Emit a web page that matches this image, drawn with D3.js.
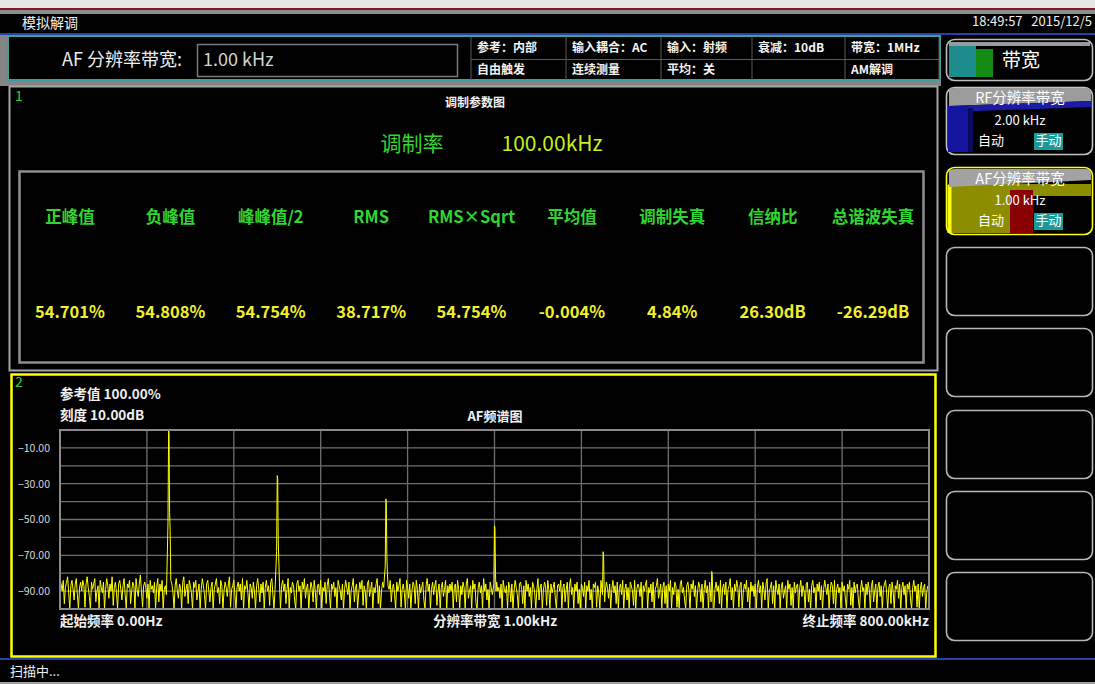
<!DOCTYPE html>
<html>
<head>
<meta charset="utf-8">
<script src="https://cdn.jsdelivr.net/npm/d3@7"></script>
<style>
  html, body { margin: 0; padding: 0; background: #000; }
  svg { display: block; }
  text { font-family: "Noto Sans CJK SC", "Noto Sans", sans-serif; }
</style>
</head>
<body>
<svg id="screen" width="1095" height="684"></svg>
<script>
// ---- instrument state ----
const titleText = "模拟解调";
const clockText = "18:49:57   2015/12/5";
const afRbwLabel = "AF 分辨率带宽:";
const afRbwValue = "1.00 kHz";
const infoRow1 = ["参考：内部", "输入耦合：AC", "输入：射频", "衰减：10dB", "带宽：1MHz"];
const infoRow2 = ["自由触发", "连续测量", "平均：关", "", "AM解调"];

// ---- modulation parameter table ----
const modRateLabel = "调制率";
const modRateValue = "100.00kHz";
const measLabels = ["正峰值", "负峰值", "峰峰值/2", "RMS", "RMS×Sqrt", "平均值", "调制失真", "信纳比", "总谐波失真"];
const measValues = ["54.701%", "54.808%", "54.754%", "38.717%", "54.754%", "-0.004%", "4.84%", "26.30dB", "-26.29dB"];

// ---- AF spectrum ----
const freqStart = 0, freqStop = 800;          // kHz
const refLevel = 0, dbPerDiv = 10, divisions = 10;
const yTicks = [-10, -30, -50, -70, -90];
const harmonicFreqs = [100, 200, 300, 400, 500, 600];          // kHz
const harmonicLevels = [0, -25.5, -38.5, -53.5, -68, -79];      // dB
const harmonicShoulders = [-46, -62, -70, -80, -86, -90];       // dB, next bin
const noiseStep = 1;                                             // kHz per noise bin
const noiseLevels = [
-83,-86,-90,-84,-97,-88,-85,-82,-91,-100,-87,-84,-89,-95,-86,-83,-92,-100,-88,-85,
-90,-84,-87,-99,-86,-82,-88,-93,-100,-85,-89,-86,-83,-96,-90,-87,-100,-84,-88,-91,
-85,-100,-89,-83,-87,-94,-86,-90,-82,-98,-88,-85,-91,-100,-86,-84,-89,-95,-87,-83,
-92,-100,-86,-88,-84,-97,-90,-85,-87,-100,-83,-89,-93,-86,-81,-90,-99,-87,-85,-88,
-94,-86,-100,-84,-89,-87,-91,-85,-100,-88,-83,-96,-86,-90,-84,-100,-89,-87,-92,-85,
-88,-99,-84,-86,-91,-100,-87,-83,-90,-94,-86,-88,-100,-85,-82,-93,-89,-86,-97,-84,
-87,-91,-100,-85,-88,-84,-95,-90,-86,-100,-89,-83,-87,-92,-100,-86,-84,-90,-96,-88,
-85,-100,-89,-86,-83,-91,-88,-97,-84,-87,-100,-90,-85,-88,-93,-86,-82,-99,-89,-87,
-84,-92,-100,-88,-85,-90,-86,-95,-83,-100,-87,-89,-84,-91,-100,-86,-88,-94,-85,-90,
-100,-87,-83,-89,-96,-86,-91,-85,-100,-88,-84,-90,-87,-98,-85,-83,-92,-100,-89,-86,
-88,-93,-85,-100,-87,-84,-90,-86,-97,-89,-83,-100,-88,-91,-85,-87,-95,-100,-86,-84,
-90,-87,-100,-85,-89,-83,-94,-88,-86,-100,-91,-85,-88,-96,-84,-90,-100,-87,-86,-92,
-84,-100,-88,-90,-85,-97,-87,-83,-91,-100,-86,-89,-85,-93,-88,-100,-84,-87,-90,-95,
-86,-100,-89,-84,-88,-92,-85,-100,-90,-87,-83,-96,-88,-86,-100,-91,-85,-89,-84,-98,
-87,-90,-100,-86,-84,-93,-89,-85,-100,-88,-91,-86,-83,-97,-87,-100,-90,-85,-88,-94,
-85,-100,-87,-89,-84,-96,-88,-86,-92,-100,-85,-90,-87,-83,-99,-89,-86,-91,-100,-84,
-88,-94,-86,-100,-90,-85,-87,-97,-84,-89,-100,-86,-91,-88,-85,-95,-100,-87,-83,-90,
-86,-100,-89,-85,-92,-87,-84,-98,-90,-86,-100,-88,-85,-93,-89,-84,-100,-87,-91,-86,
-90,-85,-100,-88,-86,-96,-84,-89,-100,-87,-92,-85,-88,-100,-86,-83,-94,-90,-87,-100,
-84,-89,-86,-97,-100,-88,-85,-91,-87,-100,-83,-90,-86,-95,-89,-100,-85,-88,-92,-86,
-87,-100,-85,-90,-88,-94,-86,-100,-84,-89,-91,-87,-100,-85,-88,-96,-86,-100,-90,-84,
-88,-92,-100,-86,-85,-89,-97,-87,-100,-84,-90,-86,-93,-88,-100,-85,-87,-91,-100,-89,
-83,-95,-88,-86,-100,-90,-85,-87,-98,-84,-89,-100,-86,-91,-88,-85,-94,-100,-87,-86,
-90,-84,-100,-88,-86,-96,-89,-85,-100,-87,-83,-92,-88,-100,-86,-90,-85,-97,-89,-100,
-86,-88,-93,-85,-100,-87,-90,-84,-95,-89,-100,-86,-88,-85,-99,-87,-91,-100,-84,-89,
-87,-100,-90,-85,-88,-94,-86,-100,-89,-84,-91,-87,-97,-85,-100,-88,-86,-92,-84,-100,
-89,-86,-95,-88,-100,-85,-87,-90,-98,-84,-100,-89,-86,-88,-93,-85,-100,-87,-90,-86,
-84,-100,-88,-91,-86,-96,-85,-100,-89,-87,-83,-94,-90,-86,-100,-88,-85,-97,-87,-100,
-86,-90,-84,-100,-88,-92,-85,-87,-99,-89,-100,-86,-84,-91,-88,-95,-100,-87,-85,-90,
-100,-86,-89,-84,-93,-87,-100,-90,-85,-88,-96,-86,-100,-89,-84,-91,-87,-100,-85,-88,
-94,-86,-100,-89,-85,-90,-87,-97,-84,-100,-88,-86,-92,-85,-100,-89,-87,-83,-95,-88,
-100,-86,-90,-84,-88,-99,-87,-85,-100,-91,-86,-89,-84,-96,-88,-100,-85,-90,-87,-93,
-86,-100,-88,-84,-91,-87,-100,-85,-89,-95,-86,-83,-100,-90,-88,-85,-97,-87,-100,-84,
-89,-92,-86,-100,-88,-85,-94,-90,-87,-100,-84,-89,-86,-98,-88,-100,-85,-91,-87,-86,
-100,-88,-84,-93,-87,-90,-100,-86,-85,-96,-89,-100,-87,-84,-91,-88,-100,-86,-90,-85,
-95,-87,-100,-89,-84,-88,-92,-86,-100,-90,-85,-87,-97,-84,-100,-89,-86,-91,-88,-100,
-85,-90,-87,-94,-100,-86,-89,-84,-98,-88,-100,-85,-91,-87,-86,-95,-100,-89,-84,-90,
-88,-100,-86,-92,-85,-89,-100,-87,-84,-96,-90,-86,-100,-88,-85,-93,-87,-100,-89,-86,
-84,-91,-100,-88,-86,-97,-85,-90,-100,-87,-89,-84,-94,-86,-100,-88,-85,-92,-87,-100,
-86,-89,-85,-95,-100,-88,-84,-90,-87,-99,-86,-100,-89,-85,-93,-88,-86,-100,-90,-87
];

// ---- soft keys ----
const softKeyTops = [247, 328, 410, 491, 572];

const svg = d3.select("#screen");
const GREEN = "#2fd62f", YELLOW = "#f2f02a", GRID = "#6f6f6f";

// ---------- frame / chrome ----------
svg.append("rect").attr("x", 0).attr("y", 0).attr("width", 1095).attr("height", 684).attr("fill", "#000");
svg.append("rect").attr("x", 0).attr("y", 0).attr("width", 1095).attr("height", 8).attr("fill", "#e6e6e6");
svg.append("rect").attr("x", 0).attr("y", 8).attr("width", 1095).attr("height", 2).attr("fill", "#7a1c1c");
svg.append("rect").attr("x", 0).attr("y", 10).attr("width", 1095).attr("height", 4).attr("fill", "#8c8c8c");
svg.append("text").attr("x", 22).attr("y", 24).attr("dominant-baseline", "middle")
  .attr("fill", "#f0f0f0").attr("font-size", 14).text(titleText);
svg.append("text").attr("x", 1092).attr("y", 22).attr("dominant-baseline", "middle").attr("text-anchor", "end")
  .attr("fill", "#f0f0f0").attr("font-size", 13).style("white-space", "pre").text(clockText);
svg.append("rect").attr("x", 0).attr("y", 33).attr("width", 1095).attr("height", 2).attr("fill", "#2443a8");

// header strip
svg.append("rect").attr("x", 0).attr("y", 35).attr("width", 941).attr("height", 51).attr("fill", "#858585");
svg.append("rect").attr("x", 8).attr("y", 36).attr("width", 932).attr("height", 44)
  .attr("fill", "#000").attr("stroke", "#3e9e9e").attr("stroke-width", 2);
svg.append("text").attr("x", 62).attr("y", 61).attr("dominant-baseline", "middle")
  .attr("fill", "#eeeeee").attr("font-size", 18).text(afRbwLabel);
svg.append("rect").attr("x", 197.5).attr("y", 44.5).attr("width", 260).attr("height", 32)
  .attr("fill", "#000").attr("stroke", "#7a7a7a").attr("stroke-width", 1.5);
svg.append("text").attr("x", 203).attr("y", 61).attr("dominant-baseline", "middle")
  .attr("fill", "#cfd6d6").attr("font-size", 18).attr("font-family", "Noto Sans, sans-serif").text(afRbwValue);

// info grid
const infoX = d3.scaleOrdinal().domain(d3.range(5)).range([471, 566, 661, 752, 845]);
const infoG = svg.append("g");
[471, 566, 661, 752, 845, 939].forEach(x =>
  infoG.append("line").attr("x1", x).attr("x2", x).attr("y1", 37).attr("y2", 80).attr("stroke", "#5a5a5a"));
infoG.append("line").attr("x1", 471).attr("x2", 939).attr("y1", 59.5).attr("y2", 59.5).attr("stroke", "#5a5a5a");
infoG.selectAll("text.r1").data(infoRow1).join("text")
  .attr("x", (d, i) => infoX(i) + 6).attr("y", 49).attr("dominant-baseline", "middle")
  .attr("fill", "#f4f4f4").attr("font-size", 12).attr("font-weight", "bold").text(d => d);
infoG.selectAll("text.r2").data(infoRow2).join("text")
  .attr("x", (d, i) => infoX(i) + 6).attr("y", 70.5).attr("dominant-baseline", "middle")
  .attr("fill", "#f4f4f4").attr("font-size", 12).attr("font-weight", "bold").text(d => d);

// ---------- soft keys ----------
const keys = svg.append("g");
function keyFrame(y, h, stroke) {
  keys.append("rect").attr("x", 946.5).attr("y", y + 0.5).attr("width", 146).attr("height", h)
    .attr("rx", 8).attr("fill", "#000").attr("stroke", stroke).attr("stroke-width", 1.6);
}
// 带宽 key
keyFrame(39, 41, "#bdbdbd");
keys.append("rect").attr("x", 949).attr("y", 42).attr("width", 141).attr("height", 4).attr("fill", "#9a9a9a");
keys.append("rect").attr("x", 949).attr("y", 46).attr("width", 27).attr("height", 31).attr("fill", "#1c8c8c");
keys.append("rect").attr("x", 976).attr("y", 49).attr("width", 17).attr("height", 28).attr("fill", "#138a13");
keys.append("text").attr("x", 1021).attr("y", 62).attr("dominant-baseline", "middle").attr("text-anchor", "middle")
  .attr("fill", "#fff").attr("font-size", 19).text("带宽");

// RF 分辨率带宽 key
keyFrame(87, 67, "#c4c4c4");
keys.append("path").attr("d", "M949,90 Q949,88 955,88 L1085,88 Q1091,88 1091,92 L1091,101 L949,106 Z").attr("fill", "#9c9c9c");
keys.append("path").attr("d", "M949,106 L1091,101 L1091,107 L949,112 Z").attr("fill", "#1b1ba6");
keys.append("rect").attr("x", 948).attr("y", 106).attr("width", 20).attr("height", 46).attr("fill", "#1414a0");
keys.append("rect").attr("x", 968).attr("y", 108).attr("width", 5).attr("height", 44).attr("fill", "#0a0a60");
keys.append("text").attr("x", 1020).attr("y", 99).attr("dominant-baseline", "middle").attr("text-anchor", "middle")
  .attr("fill", "#fff").attr("font-size", 14.5).text("RF分辨率带宽");
keys.append("text").attr("x", 1020).attr("y", 121).attr("dominant-baseline", "middle").attr("text-anchor", "middle")
  .attr("fill", "#fff").attr("font-size", 13).text("2.00 kHz");
keys.append("text").attr("x", 991).attr("y", 141).attr("dominant-baseline", "middle").attr("text-anchor", "middle")
  .attr("fill", "#fff").attr("font-size", 13).text("自动");
keys.append("rect").attr("x", 1034).attr("y", 133).attr("width", 29).attr("height", 17).attr("fill", "#1a9a9a");
keys.append("text").attr("x", 1048.5).attr("y", 141).attr("dominant-baseline", "middle").attr("text-anchor", "middle")
  .attr("fill", "#fff").attr("font-size", 13).text("手动");

// AF 分辨率带宽 key (selected)
keyFrame(167, 67, "#ffff1a");
keys.append("rect").attr("x", 948).attr("y", 184).attr("width", 143).attr("height", 12).attr("fill", "#8d8d00");
keys.append("rect").attr("x", 948).attr("y", 196).attr("width", 62).attr("height", 37).attr("fill", "#8d8d00");
keys.append("rect").attr("x", 1010).attr("y", 190).attr("width", 23).attr("height", 43).attr("fill", "#8a0000");
keys.append("rect").attr("x", 947.5).attr("y", 185).attr("width", 4).attr("height", 48).attr("fill", "#ffff10");
keys.append("path").attr("d", "M949,171 Q949,169 955,169 L1085,169 Q1091,169 1091,173 L1091,180 L949,187 Z").attr("fill", "#a3a3a3");
keys.append("text").attr("x", 1020).attr("y", 180).attr("dominant-baseline", "middle").attr("text-anchor", "middle")
  .attr("fill", "#fff").attr("font-size", 14.5).text("AF分辨率带宽");
keys.append("text").attr("x", 1020).attr("y", 201).attr("dominant-baseline", "middle").attr("text-anchor", "middle")
  .attr("fill", "#fff").attr("font-size", 13).text("1.00 kHz");
keys.append("text").attr("x", 991).attr("y", 221).attr("dominant-baseline", "middle").attr("text-anchor", "middle")
  .attr("fill", "#fff").attr("font-size", 13).text("自动");
keys.append("rect").attr("x", 1034).attr("y", 213).attr("width", 29).attr("height", 17).attr("fill", "#1a9a9a");
keys.append("text").attr("x", 1048.5).attr("y", 221).attr("dominant-baseline", "middle").attr("text-anchor", "middle")
  .attr("fill", "#fff").attr("font-size", 13).text("手动");

// empty keys
softKeyTops.forEach(t => keyFrame(t, 68, "#b8b8b8"));

// ---------- window 1 : modulation parameters ----------
const w1 = svg.append("g");
w1.append("rect").attr("x", 9.5).attr("y", 86.5).attr("width", 928).attr("height", 284)
  .attr("fill", "#000").attr("stroke", "#a6a6a6").attr("stroke-width", 2);
w1.append("text").attr("x", 15).attr("y", 97).attr("dominant-baseline", "middle")
  .attr("fill", GREEN).attr("font-size", 14).attr("font-family", "DejaVu Sans Mono, monospace").text("1");
w1.append("text").attr("x", 475).attr("y", 104).attr("dominant-baseline", "middle").attr("text-anchor", "middle")
  .attr("fill", "#f2f2f2").attr("font-size", 12).attr("font-weight", "bold").text("调制参数图");
w1.append("text").attr("x", 412).attr("y", 145).attr("dominant-baseline", "middle").attr("text-anchor", "middle")
  .attr("fill", GREEN).attr("font-size", 21).text(modRateLabel);
w1.append("text").attr("x", 552).attr("y", 145).attr("dominant-baseline", "middle").attr("text-anchor", "middle")
  .attr("fill", "#c6ef1c").attr("font-size", 21).attr("font-family", "Noto Sans, sans-serif").text(modRateValue);
w1.append("rect").attr("x", 19.5).attr("y", 171.5).attr("width", 904).attr("height", 191)
  .attr("fill", "#000").attr("stroke", "#8e8e8e").attr("stroke-width", 2.5);

const colX = d3.scalePoint().domain(d3.range(measLabels.length)).range([70, 873]);
w1.selectAll("text.lab").data(measLabels).join("text").attr("class", "lab")
  .attr("x", (d, i) => colX(i)).attr("y", 219).attr("dominant-baseline", "middle").attr("text-anchor", "middle")
  .attr("fill", GREEN).attr("font-size", 16.5).attr("font-weight", "bold").text(d => d);
w1.selectAll("text.val").data(measValues).join("text").attr("class", "val")
  .attr("x", (d, i) => colX(i)).attr("y", 314).attr("dominant-baseline", "middle").attr("text-anchor", "middle")
  .attr("fill", YELLOW).attr("font-size", 16.5).attr("font-weight", "bold").text(d => d);

// ---------- window 2 : AF spectrum ----------
const w2 = svg.append("g");
w2.append("rect").attr("x", 11.5).attr("y", 374.5).attr("width", 924).attr("height", 282)
  .attr("fill", "#000").attr("stroke", "#ffff00").attr("stroke-width", 2.5);
w2.append("text").attr("x", 15).attr("y", 383).attr("dominant-baseline", "middle")
  .attr("fill", GREEN).attr("font-size", 14).attr("font-family", "DejaVu Sans Mono, monospace").text("2");
w2.append("text").attr("x", 60).attr("y", 395).attr("dominant-baseline", "middle")
  .attr("fill", "#f0f0f0").attr("font-size", 13.5).attr("font-weight", "bold").text("参考值 100.00%");
w2.append("text").attr("x", 60).attr("y", 416).attr("dominant-baseline", "middle")
  .attr("fill", "#f0f0f0").attr("font-size", 13.5).attr("font-weight", "bold").text("刻度 10.00dB");
w2.append("text").attr("x", 495).attr("y", 417).attr("dominant-baseline", "middle").attr("text-anchor", "middle")
  .attr("fill", "#f0f0f0").attr("font-size", 13).attr("font-weight", "bold").text("AF频谱图");

const plot = { left: 60, right: 929, top: 430, bottom: 609 };
const x = d3.scaleLinear().domain([freqStart, freqStop]).range([plot.left, plot.right]);
const y = d3.scaleLinear().domain([refLevel, refLevel - dbPerDiv * divisions])
  .range([plot.top, plot.bottom]).clamp(true);

const grid = w2.append("g");
grid.selectAll("line.v").data(d3.range(1, divisions)).join("line")
  .attr("x1", i => x(freqStart + i * (freqStop - freqStart) / divisions))
  .attr("x2", i => x(freqStart + i * (freqStop - freqStart) / divisions))
  .attr("y1", plot.top).attr("y2", plot.bottom).attr("stroke", GRID).attr("stroke-width", 1.3);
grid.selectAll("line.h").data(d3.range(1, divisions)).join("line")
  .attr("x1", plot.left).attr("x2", plot.right)
  .attr("y1", i => y(refLevel - i * dbPerDiv)).attr("y2", i => y(refLevel - i * dbPerDiv))
  .attr("stroke", GRID).attr("stroke-width", 1.3);

const yAxis = d3.axisLeft(y).tickValues(yTicks).tickFormat(d3.format(".2f")).tickSize(0).tickPadding(10);
const yAx = w2.append("g").attr("transform", `translate(${plot.left},0)`).call(yAxis);
yAx.select(".domain").remove();
yAx.selectAll("text").attr("fill", "#d8d8d8").attr("font-size", 10.5)
  .attr("font-family", "Noto Sans, sans-serif");

// spectrum trace: noise bins plus the harmonic lines
const harmonicPts = harmonicFreqs.flatMap((f, i) => [
  [f - 0.6, harmonicShoulders[i] - 6],
  [f, harmonicLevels[i]],
  [f + 0.4, harmonicLevels[i] - 2],
  [f + 0.9, harmonicShoulders[i]],
  [f + 1.4, harmonicShoulders[i] - 10]
]);
const noisePts = noiseLevels.map((v, i) => [freqStart + i * noiseStep, v])
  .filter(p => !harmonicFreqs.some(f => Math.abs(p[0] - f) < 1.5));
const trace = noisePts.concat(harmonicPts).sort((a, b) => a[0] - b[0]);

w2.append("path").datum(trace)
  .attr("d", d3.line().x(d => x(d[0])).y(d => y(d[1])))
  .attr("fill", "none").attr("stroke", "#ffff00").attr("stroke-width", 1);

w2.append("rect").attr("x", plot.left).attr("y", plot.top)
  .attr("width", plot.right - plot.left).attr("height", plot.bottom - plot.top)
  .attr("fill", "none").attr("stroke", "#8a8a8a").attr("stroke-width", 2);

w2.append("text").attr("x", 60).attr("y", 622).attr("dominant-baseline", "middle")
  .attr("fill", "#f0f0f0").attr("font-size", 13.5).attr("font-weight", "bold").text("起始频率 0.00Hz");
w2.append("text").attr("x", 495).attr("y", 622).attr("dominant-baseline", "middle").attr("text-anchor", "middle")
  .attr("fill", "#f0f0f0").attr("font-size", 13.5).attr("font-weight", "bold").text("分辨率带宽 1.00kHz");
w2.append("text").attr("x", 929).attr("y", 622).attr("dominant-baseline", "middle").attr("text-anchor", "end")
  .attr("fill", "#f0f0f0").attr("font-size", 13.5).attr("font-weight", "bold").text("终止频率 800.00kHz");

// ---------- status bar ----------
svg.append("rect").attr("x", 0).attr("y", 658).attr("width", 1095).attr("height", 2).attr("fill", "#2443a8");
svg.append("rect").attr("x", 0).attr("y", 682).attr("width", 1095).attr("height", 2).attr("fill", "#a0a0a0");
svg.append("text").attr("x", 10).attr("y", 672).attr("dominant-baseline", "middle")
  .attr("fill", "#f0f0f0").attr("font-size", 13).text("扫描中...");
</script>
</body>
</html>
